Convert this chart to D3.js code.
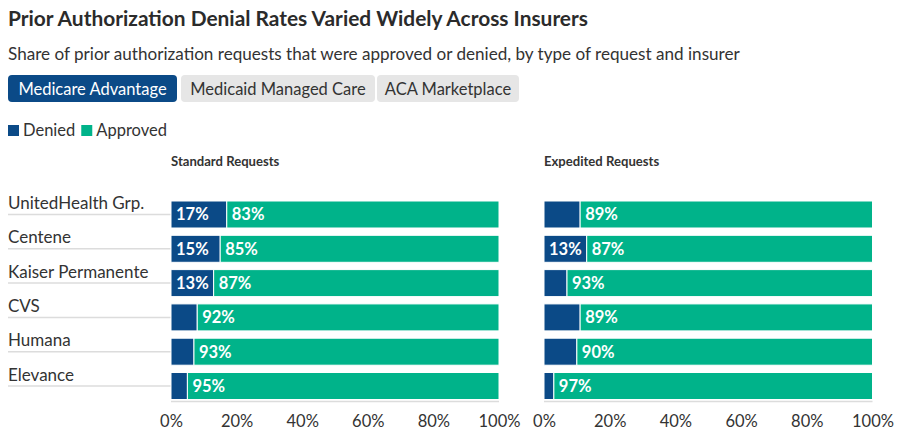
<!DOCTYPE html>
<html><head><meta charset="utf-8">
<script src="https://cdn.jsdelivr.net/npm/d3@7"></script>
<style>
body{margin:0;background:#fff;}
svg{display:block;font-family:Lato,"Noto Sans",sans-serif;}
</style></head>
<body><svg id="c" width="900" height="439"></svg>
<script>
const insurers = ["UnitedHealth Grp.","Centene","Kaiser Permanente","CVS","Humana","Elevance"];
const standardDenied = [17,15,13,8,7,5];
const standardApproved = [83,85,87,92,93,95];
const expeditedDenied = [11,13,7,11,10,3];
const expeditedApproved = [89,87,93,89,90,97];
const panelTitles = ["Standard Requests","Expedited Requests"];
const tabs = ["Medicare Advantage","Medicaid Managed Care","ACA Marketplace"];
const seriesNames = ["Denied","Approved"];
const tickValues = [0,20,40,60,80,100];

const colors = {Denied:"#0b4a87", Approved:"#00b38a"};
const svg = d3.select("#c");
const txt = "#333333";

svg.append("text").attr("x",8).attr("y",26).attr("font-size",20.9).attr("font-weight",700).attr("fill","#2b2b2b")
  .text("Prior Authorization Denial Rates Varied Widely Across Insurers");
svg.append("text").attr("x",8).attr("y",60).attr("font-size",17.1).attr("fill",txt)
  .text("Share of prior authorization requests that were approved or denied, by type of request and insurer");

// tabs
const tabX = [8,181,377], tabW=[169,194,142];
tabs.forEach((t,i)=>{
  const g = svg.append("g");
  g.append("rect").attr("x",tabX[i]).attr("y",75).attr("width",tabW[i]).attr("height",27).attr("rx",4)
    .attr("fill", i===0? "#0b4a87":"#e6e6e6");
  g.append("text").attr("x",tabX[i]+tabW[i]/2).attr("y",95).attr("text-anchor","middle")
    .attr("font-size",16.5).attr("fill", i===0?"#fff":txt).text(t);
});

// legend
const lg = svg.append("g");
let lx = 8;
seriesNames.forEach(s=>{
  lg.append("rect").attr("x",lx).attr("y",125).attr("width",11).attr("height",11).attr("fill",colors[s]);
  const t = lg.append("text").attr("x",lx+15).attr("y",136).attr("font-size",16.5).attr("fill",txt).text(s);
  lx += 15 + t.node().getComputedTextLength() + 6;
});

// y scale
const y = d3.scaleBand().domain(insurers).range([201,399.5]).paddingInner(0.213).paddingOuter(0);

// row labels and lines
insurers.forEach(n=>{
  const cy = y(n)+y.bandwidth()/2;
  svg.append("line").attr("x1",8).attr("x2",171).attr("y1",cy).attr("y2",cy).attr("stroke","#dcdcdc").attr("stroke-width",1.5);
  svg.append("text").attr("x",8).attr("y",cy-5.5).attr("font-size",17).attr("fill",txt).text(n);
});

const panels = [
  {x0:171,x1:499,title:panelTitles[0],den:standardDenied,app:standardApproved},
  {x0:544,x1:872.5,title:panelTitles[1],den:expeditedDenied,app:expeditedApproved}
];
panels.forEach(p=>{
  const x = d3.scaleLinear().domain([0,100]).range([p.x0,p.x1]);
  const g = svg.append("g");
  g.append("text").attr("x",p.x0).attr("y",165.5).attr("font-size",13.1).attr("font-weight",700).attr("fill",txt).text(p.title);
  const rows = insurers.map((n,i)=>({n, d:p.den[i], a:p.app[i]}));
  // baseline
  g.append("line").attr("x1",p.x0).attr("x2",p.x1).attr("y1",401.5).attr("y2",401.5).attr("stroke","#dcdcdc").attr("stroke-width",1.5);
  rows.forEach(r=>{
    const segs = [{s:"Denied",v0:0,v1:r.d,v:r.d},{s:"Approved",v0:r.d,v1:r.d+r.a,v:r.a}];
    segs.forEach(sg=>{
      g.append("rect").attr("x",x(sg.v0)).attr("y",y(r.n)).attr("width",x(sg.v1)-x(sg.v0)).attr("height",y.bandwidth())
        .attr("fill",colors[sg.s]).attr("stroke","#fff").attr("stroke-width",1);
      if (x(sg.v1)-x(sg.v0) > 38) {
        g.append("text").attr("x",x(sg.v0)+5).attr("y",y(r.n)+y.bandwidth()/2+6).attr("font-size",16.5)
          .attr("font-weight",700).attr("fill","#fff").text(sg.v+"%");
      }
    });
  });
  const ax = g.append("g").attr("transform","translate(0,410)")
    .call(d3.axisBottom(x).tickValues(tickValues).tickFormat(d=>d+"%").tickSize(0).tickPadding(0));
  ax.select(".domain").remove();
  ax.selectAll("text").attr("font-size",16.5).attr("fill",txt).attr("font-family","Lato,sans-serif").attr("dy","1em");
});
</script></body></html>
